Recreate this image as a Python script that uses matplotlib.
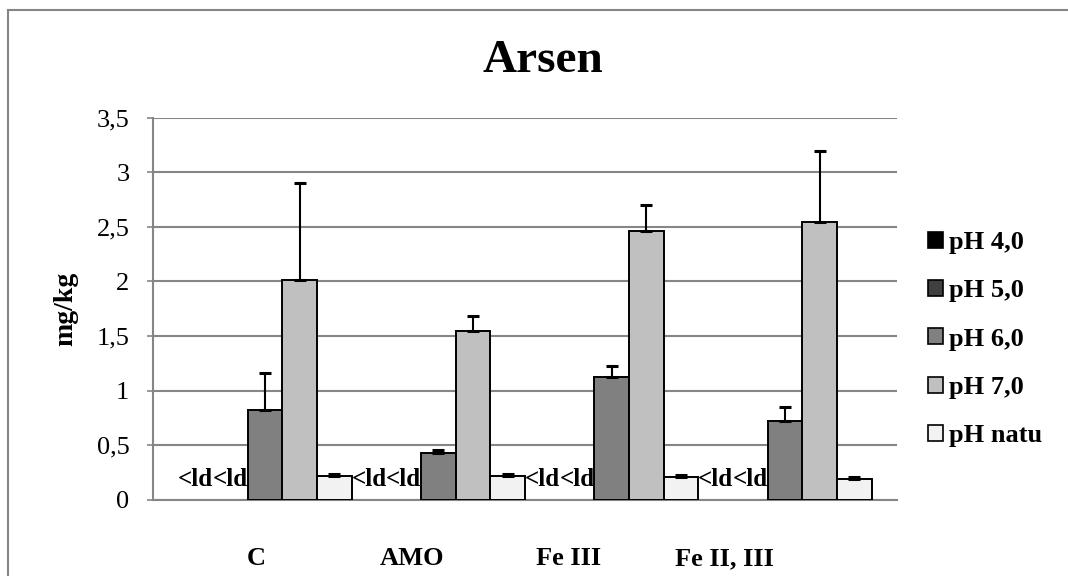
import numpy as np
import matplotlib
matplotlib.use('Agg')
import matplotlib.pyplot as plt
from matplotlib.patches import Patch
from matplotlib.lines import Line2D

plt.rcParams['font.family'] = ['Liberation Serif', 'DejaVu Serif']

# Dados; None = abaixo do limite de detecção (<ld)
categories = ['C', 'AMO', 'Fe III', 'Fe II, III']
series = ['pH 4,0', 'pH 5,0', 'pH 6,0', 'pH 7,0', 'pH natu']
values = {
    'pH 4,0': [None, None, None, None],
    'pH 5,0': [None, None, None, None],
    'pH 6,0': [0.82, 0.43, 1.13, 0.72],
    'pH 7,0': [2.01, 1.55, 2.46, 2.54],
    'pH natu': [0.22, 0.22, 0.21, 0.19],
}
errors = {
    'pH 4,0': [0, 0, 0, 0],
    'pH 5,0': [0, 0, 0, 0],
    'pH 6,0': [0.34, 0.03, 0.10, 0.13],
    'pH 7,0': [0.89, 0.13, 0.24, 0.65],
    'pH natu': [0.02, 0.02, 0.02, 0.02],
}
colors = ['#000000', '#404040', '#808080', '#c0c0c0', '#f2f2f2']
grid_gray = '#868686'

fig = plt.figure(figsize=(10.68, 5.76), dpi=100)
ax = fig.add_axes([153 / 1068, 1 - 500 / 576, 744 / 1068, (500 - 117.5) / 576])

x = np.arange(len(categories))
w = 0.2
for j, (name, col) in enumerate(zip(series, colors)):
    pos = x + (j - 2) * w
    for i, v in enumerate(values[name]):
        if v is None:
            ax.text(pos[i], 0.085, '<ld', ha='center', va='bottom',
                    fontsize=18, fontweight='bold')
            continue
        ax.bar(pos[i], v, w, color=col, edgecolor='black', linewidth=1.4, zorder=3)
        ax.errorbar(pos[i], v, yerr=[[0], [errors[name][i]]], fmt='none',
                    ecolor='black', elinewidth=1.5, capsize=4.5, capthick=2.2, zorder=4)

ax.set_ylim(0, 3.5)
ax.set_xlim(-0.646, 3.647)
ax.set_yticks(np.arange(0, 3.51, 0.5))
ax.set_yticklabels(['0', '0,5', '1', '1,5', '2', '2,5', '3', '3,5'], fontsize=19)
ax.yaxis.grid(True, color=grid_gray, linewidth=1.5)
ax.set_axisbelow(True)

# rótulos das categorias
ax.set_xticks(x * 0.9 - 0.05)
ax.set_xticklabels(categories, fontsize=19, fontweight='bold')
ax.tick_params(axis='x', length=0, pad=34)
ax.tick_params(axis='y', length=4, color=grid_gray, width=1.2, pad=13)

for s in ['top', 'right']:
    ax.spines[s].set_visible(False)
for s in ['left', 'bottom']:
    ax.spines[s].set_color(grid_gray)
    ax.spines[s].set_linewidth(1.5)

ax.set_ylabel('mg/kg', fontsize=20, fontweight='bold')
ax.yaxis.set_label_coords(-0.10, 0.5)

fig.text(543 / 1068, 1 - 61 / 576, 'Arsen', ha='center', va='center',
         fontsize=34, fontweight='bold')

# Legenda
handles = [Patch(facecolor=c, edgecolor='black', linewidth=1.2, label=n)
           for n, c in zip(series, colors)]
leg = fig.legend(handles=handles, loc='upper left',
                 bbox_to_anchor=(928 / 1068, 1 - 231 / 576),
                 frameon=False, prop={'size': 19, 'weight': 'bold'},
                 handlelength=0.57, handleheight=0.57, handletextpad=0.22,
                 labelspacing=0.96, borderpad=0, borderaxespad=0)

# Moldura externa do gráfico
fig.add_artist(Line2D([8 / 1068, 8 / 1068], [0, 1 - 10 / 576],
                      transform=fig.transFigure, color=grid_gray, linewidth=1.5))
fig.add_artist(Line2D([8 / 1068, 1], [1 - 10 / 576, 1 - 10 / 576],
                      transform=fig.transFigure, color=grid_gray, linewidth=1.5))

fig.savefig('out.png', dpi=100)
